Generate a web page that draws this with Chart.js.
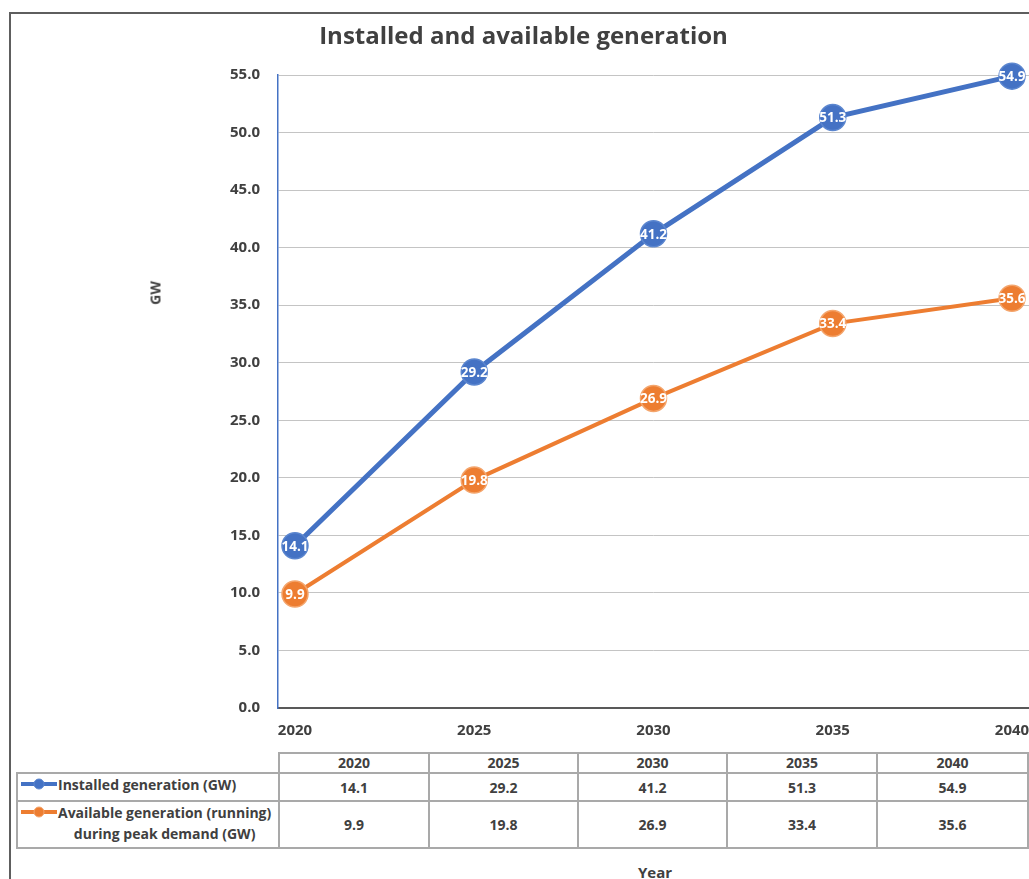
<!DOCTYPE html>
<html>
<head>
<meta charset="utf-8">
<script src="https://cdn.jsdelivr.net/npm/chart.js@4/dist/chart.umd.min.js"></script>
<style>
  html, body { margin: 0; padding: 0; background: #fff; width: 1029px; height: 879px; overflow: hidden; }
  body { position: relative; font-family: "Open Sans", Lato, sans-serif; color: #404040; }
  #frame { position: absolute; left: 9px; top: 12px; width: 1100px; height: 1000px;
           border-left: 2px solid #5e5e5e; border-top: 2px solid #5e5e5e; }
  #chart { position: absolute; left: 0; top: 0; }
  #yTitle { position: absolute; left: 155px; top: 293px; transform: translate(-50%, -50%) rotate(-90deg);
            font-weight: bold; font-size: 14px; white-space: nowrap; }
  #xTitle { position: absolute; left: 655px; top: 872px; transform: translate(-50%, -50%);
            font-weight: bold; font-size: 15px; }
  #dataTable { position: absolute; left: 16px; top: 752px; border-collapse: collapse; table-layout: fixed;
               font-weight: bold; font-size: 14px; color: #404040; }
  #dataTable td { border: 2px solid #a9a9a9; text-align: center; padding: 0; }
  #dataTable tr.head td { height: 18px; line-height: 18px; }
  #dataTable tr.r1 td { height: 26px; }
  #dataTable tr.r2 td { height: 45px; }
  #dataTable td.blank { border: none; }
  #dataTable td.key { text-align: left; vertical-align: top; overflow: visible; }
  .keyWrap { display: flex; align-items: flex-start; }
  .icon { flex: none; width: 36px; height: 16px; margin: 2px 1px 0 3px; }
  .keyText { text-align: center; line-height: 21px; white-space: nowrap; }
</style>
</head>
<body>
<div id="frame"></div>
<canvas id="chart" width="1029" height="745"></canvas>
<div id="yTitle"></div>
<div id="xTitle"></div>
<table id="dataTable"></table>
<script>
// Chart data
const TITLE = 'Installed and available generation';
const Y_TITLE = 'GW';
const X_TITLE = 'Year';
const YEARS = [2020, 2025, 2030, 2035, 2040];
const INSTALLED = [14.1, 29.2, 41.2, 51.3, 54.9];
const AVAILABLE = [9.9, 19.8, 26.9, 33.4, 35.6];
const SERIES_NAMES = ['Installed generation (GW)', 'Available generation (running)\nduring peak demand (GW)'];
const Y_MIN = 0, Y_MAX = 55, Y_STEP = 5;

const BLUE = '#4472C4', BLUE_EDGE = '#5b86cf';
const ORANGE = '#ED7D31', ORANGE_EDGE = '#f4a56c';
const FONT = '"Open Sans", Lato, sans-serif';
const TEXT = '#404040';

// Value labels drawn in the middle of every marker
const markerLabels = {
  id: 'markerLabels',
  afterDatasetsDraw(chart) {
    const ctx = chart.ctx;
    ctx.save();
    ctx.font = 'bold 13.5px ' + FONT;
    ctx.fillStyle = '#ffffff';
    ctx.textAlign = 'center';
    ctx.textBaseline = 'middle';
    chart.data.datasets.forEach((ds, i) => {
      chart.getDatasetMeta(i).data.forEach((pt, j) => {
        ctx.fillText(ds.data[j].y.toFixed(1), pt.x, pt.y + 1);
      });
    });
    ctx.restore();
  }
};

const toPoints = vals => YEARS.map((yr, i) => ({ x: yr, y: vals[i] }));

new Chart(document.getElementById('chart'), {
  type: 'line',
  data: {
    datasets: [
      { label: SERIES_NAMES[0], data: toPoints(INSTALLED), borderColor: BLUE, borderWidth: 5,
        pointRadius: 13, pointHoverRadius: 13, pointBackgroundColor: BLUE, pointBorderColor: BLUE_EDGE,
        pointBorderWidth: 1.5, tension: 0, clip: false },
      { label: SERIES_NAMES[1], data: toPoints(AVAILABLE), borderColor: ORANGE, borderWidth: 4,
        pointRadius: 13, pointHoverRadius: 13, pointBackgroundColor: ORANGE, pointBorderColor: ORANGE_EDGE,
        pointBorderWidth: 1.5, tension: 0, clip: false }
    ]
  },
  options: {
    responsive: false,
    animation: false,
    events: [],
    layout: { autoPadding: false, padding: { left: 18, right: 0, top: 0, bottom: 0 } },
    plugins: {
      legend: { display: false },
      tooltip: { enabled: false },
      title: {
        display: true, text: TITLE, color: TEXT,
        font: { family: FONT, size: 24, weight: 'bold' },
        padding: { top: 23, bottom: 23.2 }
      }
    },
    scales: {
      x: {
        type: 'linear',
        min: YEARS[0] - 0.4735,
        max: YEARS[YEARS.length - 1] + 0.4735,
        afterBuildTicks: s => { s.ticks = YEARS.map(v => ({ value: v })); },
        afterFit: s => { s.height = 37; s.paddingLeft = 0; s.paddingRight = 0; },
        grid: { display: false, drawTicks: false },
        border: { display: true, color: '#595959', width: 2 },
        ticks: { color: TEXT, font: { family: FONT, size: 15, weight: 'bold' }, padding: 14,
                 maxRotation: 0, autoSkip: false, callback: v => String(v) }
      },
      y: {
        min: Y_MIN, max: Y_MAX,
        afterFit: s => { s.width = 260; },
        grid: { color: '#c4c4c4', lineWidth: 1, drawTicks: false },
        border: { display: true, color: BLUE, width: 1.5 },
        ticks: { stepSize: Y_STEP, color: TEXT, font: { family: FONT, size: 15, weight: 'bold' },
                 padding: 18, callback: v => v.toFixed(1) }
      }
    }
  },
  plugins: [markerLabels]
});

// Axis titles
document.getElementById('yTitle').textContent = Y_TITLE;
document.getElementById('xTitle').textContent = X_TITLE;

// Data table with series keys
const COL_WIDTHS = [262, 151, 150, 150, 151, 152];
function keyIcon(color, edge) {
  return '<svg class="icon" viewBox="0 0 36 16"><line x1="0" y1="8" x2="36" y2="8" stroke="' + color +
         '" stroke-width="4"/><circle cx="18" cy="8" r="5" fill="' + color + '" stroke="' + edge + '"/></svg>';
}
const table = document.getElementById('dataTable');
let html = '<colgroup>' + COL_WIDTHS.map(w => '<col style="width:' + w + 'px">').join('') + '</colgroup>';
html += '<tr class="head"><td class="blank"></td>' + YEARS.map(y => '<td>' + y + '</td>').join('') + '</tr>';
const rows = [[INSTALLED, BLUE, BLUE_EDGE, 'r1'], [AVAILABLE, ORANGE, ORANGE_EDGE, 'r2']];
rows.forEach(([vals, c, e, cls], i) => {
  const name = SERIES_NAMES[i].split('\n').join('<br>');
  html += '<tr class="' + cls + '"><td class="key"><div class="keyWrap">' + keyIcon(c, e) +
          '<div class="keyText">' + name + '</div></div></td>' +
          vals.map(v => '<td>' + v.toFixed(1) + '</td>').join('') + '</tr>';
});
table.innerHTML = html;
</script>
</body>
</html>
